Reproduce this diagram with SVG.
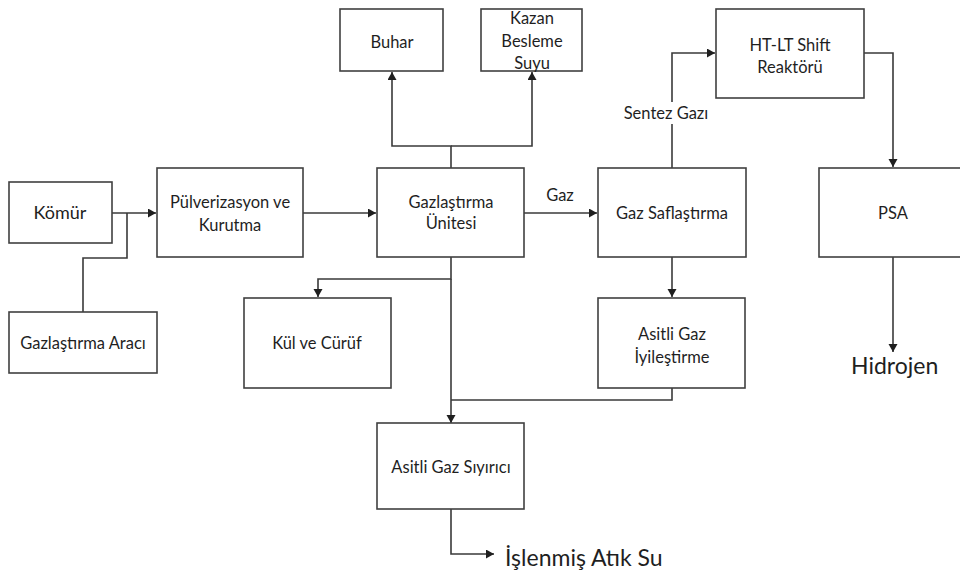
<svg xmlns="http://www.w3.org/2000/svg" width="960" height="574" viewBox="0 0 960 574">
<style>
.box{fill:#fff;stroke:#404040;stroke-width:1.6}
.ln{fill:none;stroke:#3a3a3a;stroke-width:1.6}
.t{font-family:Lato,"Liberation Sans",sans-serif;font-size:16.5px;fill:#1f1f1f;text-anchor:middle}
.big{font-family:Lato,"Liberation Sans",sans-serif;font-size:23px;fill:#1f1f1f}
</style>
<defs>
<marker id="arr" markerUnits="userSpaceOnUse" markerWidth="10" markerHeight="10" refX="8" refY="4.5" orient="auto">
<path d="M0,0 L8,4.5 L0,9 Z" fill="#1f1f1f"/>
</marker>
</defs>
<rect width="960" height="574" fill="#fff"/>
<g id="connectors">
<path class="ln" d="M112,213 H156" marker-end="url(#arr)"/>
<path class="ln" d="M83,312 V258 H127 V213"/>
<path class="ln" d="M303,213 H376" marker-end="url(#arr)"/>
<path class="ln" d="M451,168 V146 H392 V72" marker-end="url(#arr)"/>
<path class="ln" d="M451,146 H532 V72" marker-end="url(#arr)"/>
<path class="ln" d="M524,213 H597" marker-end="url(#arr)"/>
<path class="ln" d="M672,168 V124"/>
<path class="ln" d="M672,102 V53 H715" marker-end="url(#arr)"/>
<path class="ln" d="M864,53 H893 V167" marker-end="url(#arr)"/>
<path class="ln" d="M893,257 V352" marker-end="url(#arr)"/>
<path class="ln" d="M672,257 V297" marker-end="url(#arr)"/>
<path class="ln" d="M451,257 V279 H318 V297" marker-end="url(#arr)"/>
<path class="ln" d="M451,279 V423" marker-end="url(#arr)"/>
<path class="ln" d="M672,388 V400 H451"/>
<path class="ln" d="M451,509 V554 H494" marker-end="url(#arr)"/>
<text class="t" x="560" y="201">Gaz</text>
<text class="t" x="666" y="119">Sentez Gazı</text>
</g>
<g id="komur"><rect class="box" x="9" y="182" width="103" height="61"/><text class="t" x="60" y="219" style="font-size:18px">Kömür</text></g>
<g id="gazlastirma-araci"><rect class="box" x="9" y="312" width="148" height="61"/><text class="t" x="83" y="349">Gazlaştırma Aracı</text></g>
<g id="pulverizasyon"><rect class="box" x="157" y="168" width="146" height="89"/><text class="t" x="230" y="208">Pülverizasyon ve</text><text class="t" x="230" y="231">Kurutma</text></g>
<g id="gazlastirma-unitesi"><rect class="box" x="377" y="168" width="147" height="89"/><text class="t" x="451" y="208">Gazlaştırma</text><text class="t" x="451" y="229">Ünitesi</text></g>
<g id="buhar"><rect class="box" x="340" y="9" width="103" height="62"/><text class="t" x="392" y="48">Buhar</text></g>
<g id="kazan"><rect class="box" x="481" y="9" width="101" height="62"/><text class="t" x="532" y="24">Kazan</text><text class="t" x="532" y="47">Besleme</text><text class="t" x="532" y="69">Suyu</text></g>
<g id="gaz-saflastirma"><rect class="box" x="598" y="168" width="148" height="89"/><text class="t" x="672" y="219">Gaz Saflaştırma</text></g>
<g id="ht-lt"><rect class="box" x="716" y="9" width="148" height="89"/><text class="t" x="790" y="51">HT-LT Shift</text><text class="t" x="790" y="73">Reaktörü</text></g>
<g id="psa"><rect class="box" x="819" y="168" width="150" height="89"/><text class="t" x="893" y="219">PSA</text></g>
<g id="kul"><rect class="box" x="244" y="298" width="147" height="90"/><text class="t" x="317" y="349">Kül ve Cürüf</text></g>
<g id="asitli-iyilestirme"><rect class="box" x="598" y="298" width="147" height="90"/><text class="t" x="672" y="340">Asitli Gaz</text><text class="t" x="672" y="363">İyileştirme</text></g>
<g id="siyirici"><rect class="box" x="377" y="423" width="147" height="86"/><text class="t" x="451" y="473">Asitli Gaz Sıyırıcı</text></g>
<g id="hidrojen"><text class="big" x="851" y="374">Hidrojen</text></g>
<g id="atik-su"><text class="big" x="505" y="566">İşlenmiş Atık Su</text></g>
</svg>
